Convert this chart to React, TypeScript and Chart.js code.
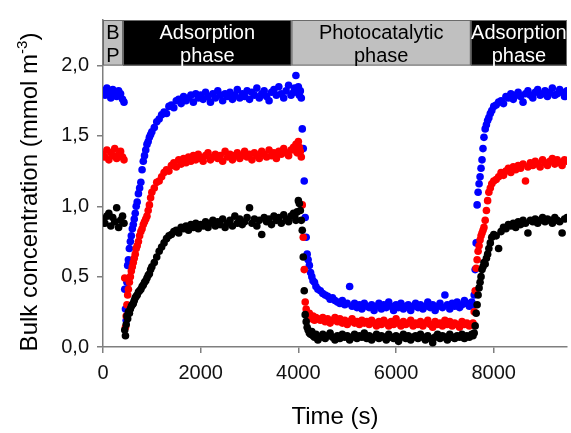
import React, { useEffect, useRef } from "react";
import { Chart, registerables } from "chart.js";

Chart.register(...registerables);

// Time stamps (s)
const times = [
  0, 40, 80, 120, 160, 200, 240, 280, 320, 360, 400, 430,
  445, 460, 475, 490, 505, 520, 540, 560, 580, 600, 620, 640, 660, 680, 700, 725, 750, 775, 800, 825, 850, 875, 900, 925, 950, 975, 1000,
  1050, 1100, 1150, 1200, 1250, 1300, 1350, 1400, 1450, 1500, 1550, 1600, 1650, 1700, 1750, 1800, 1850, 1900, 1950, 2000,
  2050, 2100, 2150, 2200, 2250, 2300, 2350, 2400, 2450, 2500, 2550, 2600, 2650, 2700, 2750, 2800, 2850, 2900, 2950, 3000,
  3050, 3100, 3150, 3200, 3250, 3300, 3350, 3400, 3450, 3500, 3550, 3600, 3650, 3700, 3750, 3800, 3850, 3900,
  3925, 3950, 3975, 4000, 4020, 4040, 4060, 4080, 4100, 4120, 4140, 4160, 4180, 4200, 4225, 4250, 4275, 4300, 4330, 4360, 4400,
  4450, 4500, 4550, 4600, 4650, 4700, 4750, 4800, 4850, 4900, 4950, 5000, 5050, 5100, 5150, 5200, 5250, 5300, 5350, 5400,
  5450, 5500, 5550, 5600, 5650, 5700, 5750, 5800, 5850, 5900, 5950, 6000, 6050, 6100, 6150, 6200, 6250, 6300, 6350, 6400,
  6450, 6500, 6550, 6600, 6650, 6700, 6750, 6800, 6850, 6900, 6950, 7000, 7050, 7100, 7150, 7200, 7250, 7300, 7350, 7400,
  7450, 7500, 7550,
  7575, 7600, 7620, 7640, 7660, 7680, 7700, 7720, 7740, 7760, 7780, 7800, 7825, 7850, 7875, 7900, 7930, 7960, 8000,
  8050, 8100, 8150, 8200, 8250, 8300, 8350, 8400, 8450, 8500, 8550, 8600, 8650, 8700, 8750, 8800, 8850, 8900, 8950, 9000,
  9050, 9100, 9150, 9200, 9250, 9300, 9350, 9400, 9450, 9500,
];

const blueSeries = [
  1.82, 1.79, 1.84, 1.80, 1.77, 1.83, 1.81, 1.78, 1.82, 1.80, 1.76, 1.74,
  0.41, 0.27, 0.19, 0.46, 0.58, 0.62, 0.70, 0.75, 0.79, 0.84, 0.87, 0.91, 0.95, 1.00, 1.03, 1.09, 1.13, 1.17, 1.26, 1.32, 1.36, 1.40, 1.44, 1.46, 1.49, 1.51, 1.53,
  1.56, 1.60, 1.62, 1.65, 1.67, 1.66, 1.71, 1.72, 1.70, 1.75, 1.76, 1.73, 1.78, 1.75, 1.77, 1.79, 1.74, 1.80, 1.77, 1.79,
  1.76, 1.81, 1.78, 1.74, 1.80, 1.77, 1.82, 1.79, 1.75, 1.80, 1.78, 1.81, 1.76, 1.79, 1.83, 1.77, 1.80, 1.78, 1.82, 1.76,
  1.81, 1.79, 1.84, 1.77, 1.80, 1.82, 1.78, 1.75, 1.81, 1.83, 1.79, 1.85, 1.80, 1.77, 1.82, 1.86, 1.79, 1.81,
  1.84, 1.93, 1.81, 1.85, 1.79, 1.82, 1.77, 1.55, 1.41, 1.18, 0.92, 0.78, 0.66, 0.62, 0.58, 0.53, 0.50, 0.47, 0.46, 0.43, 0.41,
  0.40, 0.38, 0.37, 0.36, 0.34, 0.35, 0.33, 0.32, 0.31, 0.33, 0.30, 0.31, 0.43, 0.29, 0.31, 0.28, 0.30, 0.27, 0.31, 0.29,
  0.28, 0.30, 0.26, 0.29, 0.31, 0.27, 0.30, 0.28, 0.32, 0.29, 0.26, 0.30, 0.28, 0.31, 0.27, 0.29, 0.30, 0.26, 0.29, 0.31,
  0.28, 0.30, 0.27, 0.29, 0.32, 0.28, 0.30, 0.26, 0.29, 0.31, 0.28, 0.37, 0.30, 0.27, 0.31, 0.29, 0.32, 0.28, 0.30, 0.33,
  0.31, 0.29, 0.32,
  0.30, 0.37, 0.55, 0.74, 1.01, 1.10, 1.16, 1.21, 1.27, 1.33, 1.41, 1.49, 1.55, 1.58, 1.61, 1.63, 1.66, 1.68, 1.71,
  1.72, 1.74, 1.75, 1.73, 1.78, 1.77, 1.80, 1.76, 1.79, 1.81, 1.78, 1.74, 1.80, 1.82, 1.79, 1.77, 1.81, 1.83, 1.79, 1.80,
  1.82, 1.78, 1.81, 1.84, 1.79, 1.80, 1.83, 1.81, 1.78, 1.82,
];

const redSeries = [
  1.37, 1.35, 1.40, 1.33, 1.38, 1.36, 1.41, 1.34, 1.37, 1.39, 1.35, 1.33,
  0.49, 0.14, 0.22, 0.30, 0.37, 0.41, 0.46, 0.50, 0.54, 0.57, 0.60, 0.63, 0.66, 0.70, 0.72, 0.75, 0.79, 0.82, 0.84, 0.87, 0.89, 0.91, 0.93, 0.97, 1.01, 1.06, 1.10,
  1.13, 1.17, 1.18, 1.21, 1.24, 1.26, 1.25, 1.29, 1.31, 1.28, 1.33, 1.30, 1.34, 1.31, 1.35, 1.32, 1.36, 1.33, 1.37, 1.34,
  1.32, 1.36, 1.38, 1.33, 1.35, 1.37, 1.34, 1.36, 1.32, 1.39, 1.35, 1.37, 1.33, 1.36, 1.38, 1.34, 1.36, 1.39, 1.35, 1.37,
  1.33, 1.38, 1.36, 1.34, 1.39, 1.37, 1.35, 1.40, 1.36, 1.38, 1.34, 1.39, 1.37, 1.41, 1.38, 1.36, 1.40, 1.42,
  1.40, 1.44, 1.38, 1.46, 1.42, 1.39, 1.35, 1.01, 0.78, 0.55, 0.32, 0.27, 0.23, 0.22, 0.24, 0.21, 0.20, 0.22, 0.19, 0.21, 0.20,
  0.19, 0.21, 0.18, 0.20, 0.17, 0.19, 0.21, 0.18, 0.20, 0.17, 0.19, 0.16, 0.18, 0.20, 0.17, 0.18, 0.16, 0.19, 0.17, 0.18,
  0.16, 0.19, 0.17, 0.15, 0.18, 0.16, 0.19, 0.17, 0.15, 0.18, 0.16, 0.20, 0.17, 0.15, 0.18, 0.16, 0.17, 0.19, 0.15, 0.17,
  0.16, 0.18, 0.15, 0.17, 0.19, 0.16, 0.14, 0.18, 0.16, 0.17, 0.15, 0.19, 0.16, 0.18, 0.15, 0.17, 0.16, 0.14, 0.18, 0.16,
  0.17, 0.15, 0.16,
  0.17, 0.25, 0.40, 0.56, 0.62, 0.68, 0.72, 0.76, 0.79, 0.81, 0.83, 0.85, 0.90, 0.97, 1.04, 1.10, 1.13, 1.16, 1.18,
  1.19, 1.21, 1.24, 1.22, 1.25, 1.27, 1.24, 1.28, 1.26, 1.29, 1.27, 1.30, 1.18, 1.28, 1.31, 1.29, 1.32, 1.30, 1.28, 1.33,
  1.31, 1.29, 1.32, 1.34, 1.30, 1.33, 1.31, 1.29, 1.33, 1.32,
];

const blackSeries = [
  0.91, 0.88, 0.93, 0.95, 0.86, 0.92, 0.89, 0.99, 0.85, 0.90, 0.93, 0.88,
  0.12, 0.08, 0.16, 0.22, 0.20, 0.25, 0.24, 0.27, 0.29, 0.30, 0.31, 0.33, 0.35, 0.36, 0.37, 0.39, 0.40, 0.41, 0.43, 0.44, 0.46, 0.47, 0.49, 0.51, 0.52, 0.55, 0.57,
  0.60, 0.64, 0.68, 0.71, 0.74, 0.77, 0.79, 0.80, 0.82, 0.83, 0.81, 0.85, 0.84, 0.86, 0.83, 0.87, 0.85, 0.88, 0.84, 0.87,
  0.86, 0.89, 0.85, 0.88, 0.90, 0.86, 0.89, 0.87, 0.91, 0.85, 0.88, 0.90, 0.86, 0.93, 0.88, 0.91, 0.87, 0.89, 0.92, 0.99,
  0.88, 0.91, 0.86, 0.90, 0.80, 0.92, 0.89, 0.91, 0.87, 0.93, 0.90, 0.92, 0.88, 0.94, 0.91, 0.89, 0.93, 0.95,
  0.93, 0.90, 0.96, 1.04, 1.02, 0.97, 0.90, 0.83, 0.64, 0.40, 0.23, 0.18, 0.14, 0.12, 0.10, 0.09, 0.11, 0.08, 0.07, 0.09, 0.05,
  0.07, 0.09, 0.06, 0.08, 0.10, 0.07, 0.05, 0.08, 0.06, 0.09, 0.07, 0.08, 0.05, 0.07, 0.09, 0.06, 0.08, 0.07, 0.10, 0.06,
  0.08, 0.05, 0.07, 0.09, 0.06, 0.08, 0.07, 0.05, 0.09, 0.07, 0.06, 0.08, 0.04, 0.07, 0.09, 0.06, 0.08, 0.05, 0.07, 0.08,
  0.06, 0.09, 0.07, 0.05, 0.08, 0.06, 0.03, 0.07, 0.09, 0.06, 0.08, 0.07, 0.05, 0.09, 0.07, 0.06, 0.08, 0.07, 0.09, 0.06,
  0.08, 0.07, 0.09,
  0.08, 0.10, 0.15, 0.24, 0.30, 0.37, 0.42, 0.46, 0.50, 0.55, 0.57, 0.60, 0.59, 0.63, 0.66, 0.70, 0.74, 0.78, 0.80,
  0.79, 0.70, 0.82, 0.85, 0.84, 0.87, 0.86, 0.88, 0.85, 0.89, 0.87, 0.90, 0.88, 0.81, 0.90, 0.89, 0.91, 0.88, 0.90, 0.92,
  0.89, 0.91, 0.90, 0.88, 0.92, 0.90, 0.89, 0.81, 0.91, 0.92,
];

// Axis ticks
const xTicks = [0, 2000, 4000, 6000, 8000];
const yTicks = [0, 0.5, 1.0, 1.5, 2.0];

// Phase bar along the top
const phaseStarts = [0, 410, 3860, 7530];
const phaseEnds = [410, 3860, 7530, 9500];
const phaseLabels = [["B", "P"], ["Adsorption", "phase"], ["Photocatalytic", "phase"], ["Adsorption", "phase"]];
const phaseDark = [false, true, false, true];

const FONT = '"Liberation Sans", Arial, sans-serif';

const decorPlugin = {
  id: "decor",
  afterDatasetsDraw(chart: any) {
    const { ctx, chartArea, scales } = chart;
    const x = scales.x;
    const y = scales.y;
    const top = chartArea.top;
    const bottom = y.getPixelForValue(2.0);
    ctx.save();
    for (let i = 0; i < phaseStarts.length; i++) {
      const x0 = Math.max(chartArea.left, x.getPixelForValue(phaseStarts[i]));
      const x1 = Math.min(chartArea.right, x.getPixelForValue(phaseEnds[i]));
      ctx.fillStyle = phaseDark[i] ? "#000000" : "#c0c0c0";
      ctx.fillRect(x0, top, x1 - x0, bottom - top);
      ctx.strokeStyle = "#6a6a6a";
      ctx.lineWidth = 1;
      ctx.strokeRect(x0 + 0.5, top + 0.5, x1 - x0 - 1, bottom - top - 1);
      ctx.fillStyle = phaseDark[i] ? "#ffffff" : "#000000";
      ctx.font = `20px ${FONT}`;
      ctx.textAlign = "center";
      ctx.textBaseline = "alphabetic";
      const cx = (x0 + x1) / 2;
      ctx.fillText(phaseLabels[i][0], cx, top + 19);
      ctx.fillText(phaseLabels[i][1], cx, top + 42);
    }
    ctx.restore();
  },
  afterDraw(chart: any) {
    const { ctx, chartArea } = chart;
    ctx.save();
    ctx.fillStyle = "#000000";
    // X title
    ctx.font = `24px ${FONT}`;
    ctx.textAlign = "center";
    ctx.textBaseline = "alphabetic";
    ctx.fillText("Time (s)", (chartArea.left + chartArea.right) / 2, 424);
    // Y title with superscript
    const main = "Bulk concentration (mmol m";
    const sup = "-3";
    const close = ")";
    ctx.font = `24px ${FONT}`;
    const wMain = ctx.measureText(main).width;
    const wClose = ctx.measureText(close).width;
    ctx.font = `15px ${FONT}`;
    const wSup = ctx.measureText(sup).width;
    const total = wMain + wSup + wClose;
    ctx.translate(37, 192);
    ctx.rotate(-Math.PI / 2);
    ctx.textAlign = "left";
    let sx = -total / 2;
    ctx.font = `24px ${FONT}`;
    ctx.fillText(main, sx, 0);
    sx += wMain;
    ctx.font = `15px ${FONT}`;
    ctx.fillText(sup, sx, -10);
    sx += wSup;
    ctx.font = `24px ${FONT}`;
    ctx.fillText(close, sx, 0);
    ctx.restore();
  },
};

export default function App() {
  const canvasRef = useRef<HTMLCanvasElement | null>(null);

  useEffect(() => {
    if (!canvasRef.current) return;
    const mk = (vals: number[]) => times.map((t, i) => ({ x: t, y: vals[i] }));
    const chart = new Chart(canvasRef.current, {
      type: "scatter",
      data: {
        datasets: [
          { label: "black", data: mk(blackSeries), backgroundColor: "#000000", borderWidth: 0, pointRadius: 3.8 },
          { label: "red", data: mk(redSeries), backgroundColor: "#ff0000", borderWidth: 0, pointRadius: 3.8 },
          { label: "blue", data: mk(blueSeries), backgroundColor: "#0000ff", borderWidth: 0, pointRadius: 3.8 },
        ],
      },
      options: {
        animation: false,
        responsive: true,
        maintainAspectRatio: false,
        layout: { padding: { top: 10, right: 2, left: 0, bottom: 0 } },
        plugins: { legend: { display: false }, title: { display: false }, tooltip: { enabled: false } },
        scales: {
          x: {
            type: "linear",
            min: 0,
            max: 9500,
            afterBuildTicks: (scale: any) => {
              scale.ticks = xTicks.map((v) => ({ value: v }));
            },
            afterFit: (scale: any) => {
              scale.height = 86;
            },
            border: { display: true, color: "#7f7f7f", width: 1.5 },
            grid: { display: true, drawOnChartArea: false, drawTicks: true, tickLength: 6, color: "#7f7f7f", lineWidth: 1.5 },
            ticks: {
              color: "#111111",
              font: { family: FONT, size: 20 },
              padding: 8,
              maxRotation: 0,
              callback: (v: any) => String(v),
            },
          },
          y: {
            type: "linear",
            min: 0,
            max: 2.324,
            afterBuildTicks: (scale: any) => {
              scale.ticks = yTicks.map((v) => ({ value: v }));
            },
            afterFit: (scale: any) => {
              scale.width = 103;
            },
            border: { display: true, color: "#7f7f7f", width: 1.5 },
            grid: { display: true, drawOnChartArea: false, drawTicks: true, tickLength: 6, color: "#7f7f7f", lineWidth: 1.5 },
            ticks: {
              color: "#111111",
              font: { family: FONT, size: 20 },
              padding: 8,
              callback: (v: any) => Number(v).toFixed(1).replace(".", ","),
            },
          },
        },
      },
      plugins: [decorPlugin],
    } as any);
    return () => chart.destroy();
  }, []);

  return (
    <div style={{ position: "fixed", left: 0, top: 0, width: 571, height: 433, background: "#ffffff" }}>
      <canvas ref={canvasRef} />
    </div>
  );
}
